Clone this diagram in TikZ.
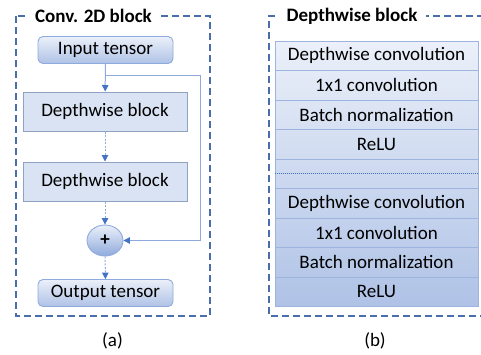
\documentclass[tikz,border=0pt]{standalone}
\usepackage{fontspec}
\setmainfont{Carlito}
\usetikzlibrary{arrows.meta,shapes.geometric,calc}

\definecolor{framec}{HTML}{4A6EA9}
\definecolor{arrowc}{HTML}{4472C4}
\definecolor{linec}{HTML}{8FAADC}
\definecolor{dwfill}{HTML}{DAE3F3}
\definecolor{dwdraw}{HTML}{8FA2C2}
\definecolor{rowline}{HTML}{9DB4DE}
\definecolor{stacktop}{HTML}{EBF0F9}
\definecolor{stackbot}{HTML}{AFC2E6}

\tikzset{
  x=1pt, y=-1pt,
  every node/.style={font=\fontsize{19}{22}\selectfont, inner sep=0pt},
  frame/.style={draw=framec, line width=1.3pt, dash pattern=on 7pt off 4pt},
  frametitle/.style={fill=white, inner xsep=9pt, inner ysep=2pt, font=\fontsize{19}{22}\selectfont\bfseries},
  tensorbox/.style={draw=linec, line width=0.9pt, rounded corners=5pt,
    top color=stacktop, bottom color=stackbot, minimum width=135pt, minimum height=27pt},
  dwbox/.style={draw=dwdraw, line width=1pt, fill=dwfill, minimum width=164pt, minimum height=39pt},
  addnode/.style={ellipse, draw=linec, line width=0.9pt, top color=stacktop, bottom color=linec,
    minimum width=36pt, minimum height=31pt},
  stackrow/.style={draw=rowline, line width=0.8pt, minimum width=203pt, minimum height=29.5pt},
  flow/.style={draw=linec, line width=1pt, -{Triangle[length=6.5pt,width=6.5pt,fill=arrowc,color=arrowc]}},
  dashflow/.style={flow, dash pattern=on 2pt off 1.5pt},
  caption/.style={font=\fontsize{19}{22}\selectfont}
}

\begin{document}
\begin{tikzpicture}
\useasboundingbox (0,0) rectangle (481,354);

% ---- (a) Conv. 2D block ----
\draw[frame] (16,16) rectangle (210,316);
\node[frametitle] (convtitle) at (93.5,16) {Conv. 2D block};

\node[tensorbox] (in) at (105.5,50) {Input tensor};
\node[dwbox] (dw1) at (105,111.5) {Depthwise block};
\node[dwbox] (dw2) at (105,181.5) {Depthwise block};
\node[addnode] (plus) at (105,240.5) {\bfseries +};
\node[tensorbox] (out) at (105.5,293) {Output tensor};

\coordinate (split) at (105.5,75);
\coordinate (turn) at (200,75);

\draw[flow] (in) -- (dw1);
\draw[dashflow] (dw1) -- (dw2);
\draw[dashflow] (dw2) -- (plus);
\draw[dashflow] (plus) -- (out);
\draw[flow] (split) -- (turn) |- (plus.east);

\node[caption] (capa) at (112.5,341) {(a)};

% ---- (b) Depthwise block ----
\draw[frame] (495,16) -- (269,16) -- (269,316) -- (495,316);
\node[frametitle] (dwtitle) at (352,16) {Depthwise block};

\node[stackrow, minimum height=265.5pt, draw=none, top color=stacktop, bottom color=stackbot] (stack) at (376.5,173.75) {};

\node[stackrow] (r1) at (376.5,55.75) {Depthwise convolution};
\node[stackrow] (r2) at (376.5,85.25) {1x1 convolution};
\node[stackrow] (r3) at (376.5,114.75) {Batch normalization};
\node[stackrow] (r4) at (376.5,144.25) {ReLU};
\node[stackrow] (gap) at (376.5,173.75) {};
\node[stackrow] (r5) at (376.5,203.25) {Depthwise convolution};
\node[stackrow] (r6) at (376.5,232.75) {1x1 convolution};
\node[stackrow] (r7) at (376.5,262.25) {Batch normalization};
\node[stackrow] (r8) at (376.5,291.75) {ReLU};
\draw[arrowc, line width=0.6pt, dash pattern=on 1pt off 1pt] (gap.west) -- (gap.east);

\node[caption] (capb) at (375,341) {(b)};
\end{tikzpicture}
\end{document}
